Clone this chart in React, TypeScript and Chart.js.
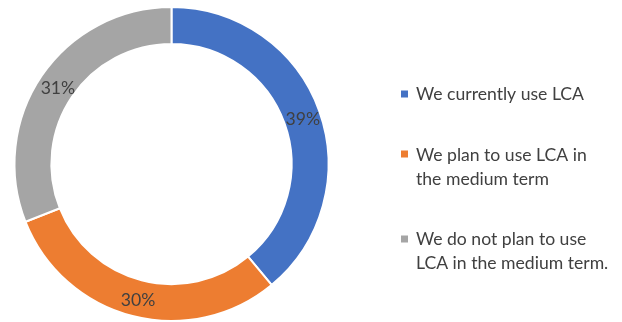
import React, { useEffect, useRef } from "react";
import { Chart, registerables } from "chart.js";

Chart.register(...registerables);

// Survey answers on life cycle assessment (LCA) use
const categories = [
  "We currently use LCA",
  "We plan to use LCA in\nthe medium term",
  "We do not plan to use\nLCA in the medium term.",
];
const shares = [39, 30, 31];
const sliceColors = ["#4472C4", "#ED7D31", "#A5A5A5"];

const FONT = "Lato, 'Open Sans', sans-serif";
const TEXT_COLOR = "#404040";
const FONT_SIZE = 17.6;

// Percentage labels placed in the middle of each ring segment
const sliceLabels = {
  id: "sliceLabels",
  afterDatasetsDraw(chart: any) {
    const ctx = chart.ctx;
    const meta = chart.getDatasetMeta(0);
    const data = chart.data.datasets[0].data as number[];
    const total = data.reduce((a, b) => a + b, 0);
    ctx.save();
    ctx.font = `${FONT_SIZE}px ${FONT}`;
    ctx.fillStyle = TEXT_COLOR;
    ctx.textAlign = "center";
    ctx.textBaseline = "middle";
    meta.data.forEach((arc: any, i: number) => {
      const p = arc.tooltipPosition();
      const pct = Math.round((data[i] / total) * 100);
      ctx.fillText(`${pct}%`, p.x + 1, p.y + 2);
    });
    ctx.restore();
  },
};

// Legend on the right with square markers and wrapped labels
const sideLegend = {
  id: "sideLegend",
  afterDraw(chart: any) {
    const ctx = chart.ctx;
    const labels = chart.data.labels as string[];
    const colors = chart.data.datasets[0].backgroundColor as string[];
    const markerX = 401;
    const textX = 416;
    const lineHeight = 24;
    const itemGap = 36.5;
    let y = 93.5;
    ctx.save();
    ctx.font = `${FONT_SIZE}px ${FONT}`;
    ctx.textAlign = "left";
    ctx.textBaseline = "middle";
    labels.forEach((label, i) => {
      const lines = label.split("\n");
      ctx.fillStyle = colors[i];
      ctx.fillRect(markerX, Math.round(y) - 3.5, 7, 7);
      ctx.fillStyle = TEXT_COLOR;
      lines.forEach((line, k) => {
        ctx.fillText(line, textX, y + k * lineHeight + 1);
      });
      y += (lines.length - 1) * lineHeight + lineHeight + itemGap;
    });
    ctx.restore();
  },
};

export default function App() {
  const canvasRef = useRef<HTMLCanvasElement | null>(null);

  useEffect(() => {
    document.body.style.margin = "0";
    const canvas = canvasRef.current;
    if (!canvas) return;
    const chart = new Chart(canvas, {
      type: "doughnut",
      data: {
        labels: categories,
        datasets: [
          {
            data: shares,
            backgroundColor: sliceColors,
            borderColor: "#FFFFFF",
            borderWidth: 2,
          },
        ],
      },
      options: {
        responsive: false,
        animation: false,
        cutout: "76.5%",
        rotation: 0,
        layout: { padding: { left: 13, top: 6, right: 292, bottom: 0 } },
        plugins: {
          legend: { display: false },
          tooltip: { enabled: false },
        },
      },
      plugins: [sliceLabels, sideLegend],
    });
    return () => chart.destroy();
  }, []);

  return (
    <div style={{ width: 622, height: 322, background: "#FFFFFF" }}>
      <canvas ref={canvasRef} width={622} height={322} />
    </div>
  );
}
